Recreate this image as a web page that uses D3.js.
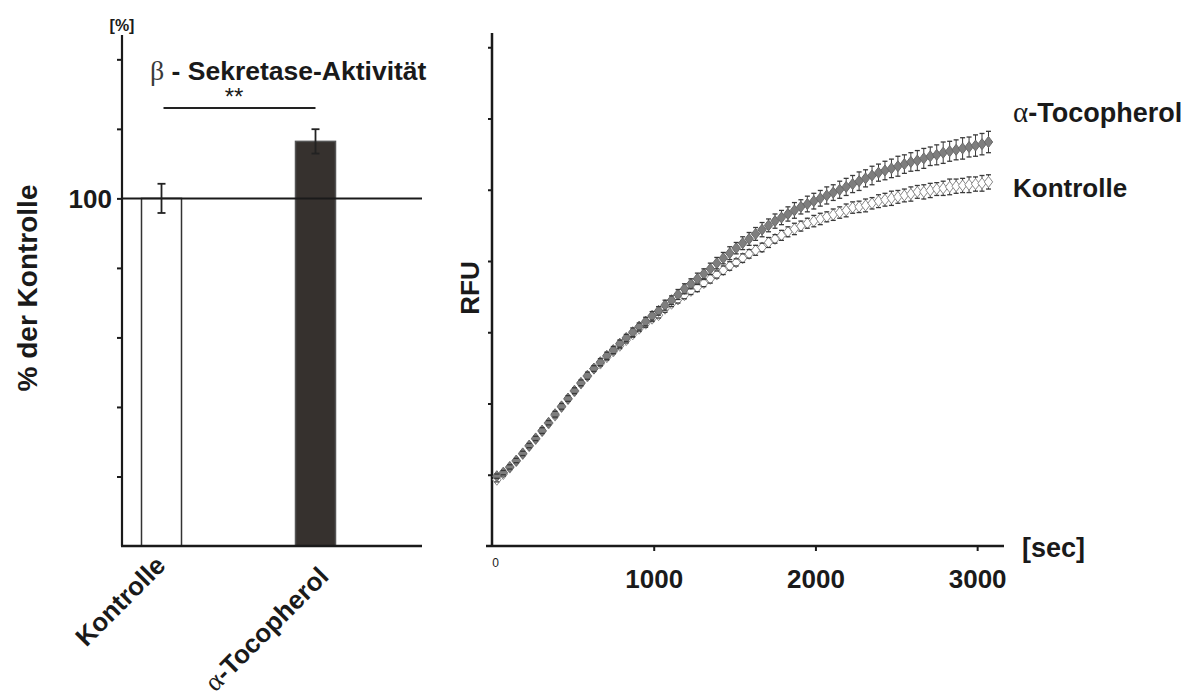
<!DOCTYPE html>
<html>
<head>
<meta charset="utf-8">
<script src="https://cdn.jsdelivr.net/npm/d3@7"></script>
<style>
  html, body { margin: 0; padding: 0; background: #fff; }
  svg { display: block; }
  text { font-family: "Liberation Sans", Arial, sans-serif; fill: #1a1a1a; }
</style>
</head>
<body>
<svg id="chart" width="1190" height="691"></svg>
<script>
// ---------- data: left bar chart ----------
const barCategories = ["Kontrolle", "α-Tocopherol"];
const barValues = [100, 116.4];
const barErrors = [4.2, 3.5];
const barYTicks = [20, 40, 60, 80, 100, 120, 140];
const barYTickLabels = ["", "", "", "", "100", "", ""];

// ---------- data: right kinetics chart ----------
const timeSec = [30,70,110,150,190,230,270,310,350,390,430,470,510,550,590,630,670,710,750,790,
  830,870,910,950,990,1030,1070,1110,1150,1190,1230,1270,1310,1350,1390,1430,1470,1510,1550,1590,
  1630,1670,1710,1750,1790,1830,1870,1910,1950,1990,2030,2070,2110,2150,2190,2230,2270,2310,2350,2390,
  2430,2470,2510,2550,2590,2630,2670,2710,2750,2790,2830,2870,2910,2950,2990,3030,3070];
const kontrolleRFU = [0.93,1.01,1.10,1.19,1.29,1.40,1.50,1.61,1.72,1.83,
  1.95,2.06,2.17,2.28,2.38,2.49,2.56,2.65,2.73,2.81,
  2.89,2.97,3.05,3.12,3.19,3.24,3.33,3.40,3.46,3.52,
  3.58,3.63,3.69,3.75,3.81,3.87,3.93,3.98,4.04,4.10,
  4.15,4.19,4.26,4.31,4.36,4.41,4.45,4.49,4.53,4.56,
  4.59,4.62,4.65,4.68,4.71,4.75,4.76,4.78,4.81,4.84,
  4.86,4.88,4.90,4.92,4.94,4.97,4.97,4.99,5.01,5.02,
  5.04,5.05,5.06,5.07,5.08,5.09,5.11];
const kontrolleErr = [0.03,0.03,0.03,0.03,0.03,0.03,0.03,0.03,0.03,0.03,
  0.03,0.03,0.03,0.03,0.04,0.03,0.03,0.04,0.03,0.04,
  0.04,0.04,0.04,0.05,0.04,0.04,0.05,0.04,0.05,0.05,
  0.05,0.06,0.05,0.06,0.05,0.06,0.06,0.05,0.06,0.06,
  0.07,0.06,0.07,0.06,0.07,0.07,0.08,0.07,0.07,0.08,
  0.08,0.07,0.08,0.08,0.09,0.08,0.08,0.09,0.08,0.09,
  0.09,0.10,0.09,0.09,0.10,0.09,0.10,0.10,0.09,0.10,
  0.11,0.10,0.10,0.11,0.10,0.11,0.10];
const tocopherolRFU = [0.98,1.03,1.11,1.20,1.30,1.41,1.51,1.62,1.73,1.85,
  1.96,2.07,2.18,2.29,2.39,2.49,2.58,2.67,2.75,2.84,
  2.92,3.00,3.08,3.15,3.23,3.30,3.38,3.45,3.53,3.61,
  3.68,3.75,3.82,3.89,3.97,4.04,4.11,4.18,4.25,4.31,
  4.38,4.44,4.50,4.56,4.61,4.66,4.71,4.76,4.80,4.84,
  4.88,4.92,4.96,5.00,5.04,5.08,5.12,5.16,5.20,5.24,
  5.27,5.30,5.33,5.36,5.39,5.41,5.44,5.47,5.49,5.52,
  5.54,5.56,5.58,5.60,5.62,5.64,5.67];
const tocopherolErr = [0.03,0.03,0.03,0.03,0.03,0.03,0.03,0.04,0.03,0.04,
  0.04,0.04,0.04,0.04,0.05,0.04,0.05,0.05,0.05,0.05,
  0.05,0.06,0.05,0.06,0.06,0.06,0.07,0.06,0.07,0.07,
  0.07,0.08,0.07,0.08,0.08,0.08,0.09,0.08,0.09,0.09,
  0.09,0.10,0.09,0.10,0.10,0.10,0.11,0.10,0.11,0.11,
  0.11,0.12,0.11,0.12,0.12,0.12,0.13,0.12,0.13,0.12,
  0.13,0.13,0.14,0.13,0.13,0.14,0.14,0.13,0.14,0.15,
  0.14,0.14,0.15,0.14,0.15,0.15,0.15];
const rfuTicks = [1, 2, 3, 4, 5, 6, 7];
const secTicks = [0, 1000, 2000, 3000];
const secTickLabels = ["0", "1000", "2000", "3000"];

const svg = d3.select("#chart");
const SERIF = "'Liberation Serif', 'DejaVu Serif', serif";

// ================= LEFT CHART =================
const yL = d3.scaleLinear().domain([0, 147]).range([546, 35]);
const xL = d3.scalePoint().domain(barCategories).range([161.5, 315.5]);
const barW = 40;
const axL = 122, axR = 422;
const gL = svg.append("g");

// bars
gL.selectAll("rect.bar").data(barCategories).enter().append("rect")
  .attr("x", d => xL(d) - barW / 2)
  .attr("y", (d, i) => yL(barValues[i]))
  .attr("width", barW)
  .attr("height", (d, i) => yL(0) - yL(barValues[i]))
  .attr("fill", (d, i) => i === 0 ? "#fff" : "#36312e")
  .attr("stroke", (d, i) => i === 0 ? "#333" : "#555")
  .attr("stroke-width", 1.5);

// 100% reference line
gL.append("line").attr("x1", axL).attr("x2", axR)
  .attr("y1", yL(100)).attr("y2", yL(100))
  .attr("stroke", "#1a1a1a").attr("stroke-width", 2);

// error bars
barCategories.forEach((c, i) => {
  const cx = xL(c), lo = yL(barValues[i] - barErrors[i]), hi = yL(barValues[i] + barErrors[i]);
  gL.append("line").attr("x1", cx).attr("x2", cx).attr("y1", lo).attr("y2", hi)
    .attr("stroke", "#222").attr("stroke-width", 1.8);
  [lo, hi].forEach(y => gL.append("line").attr("x1", cx - 4).attr("x2", cx + 4)
    .attr("y1", y).attr("y2", y).attr("stroke", "#222").attr("stroke-width", 1.8));
});

// y axis
const yAxisL = d3.axisLeft(yL).tickValues(barYTicks).tickSize(5)
  .tickFormat((d, i) => barYTickLabels[i]);
const gyL = gL.append("g").attr("transform", `translate(${axL},0)`).call(yAxisL);
gyL.select(".domain").attr("stroke", "#1a1a1a").attr("stroke-width", 2.2)
  .attr("d", `M0,${yL(0)}V${yL(147)}`);
gyL.selectAll(".tick line").attr("stroke", "#1a1a1a").attr("stroke-width", 2);
gyL.selectAll(".tick text").attr("font-size", 26).attr("font-weight", "bold")
  .attr("font-family", "'Liberation Sans', Arial, sans-serif").attr("fill", "#1a1a1a")
  .attr("x", -10).attr("dy", "0.36em");

// x axis line
gL.append("line").attr("x1", axL - 1).attr("x2", axR).attr("y1", yL(0)).attr("y2", yL(0))
  .attr("stroke", "#1a1a1a").attr("stroke-width", 2.5);

// rotated category labels
const catAnchors = [[167, 567], [330, 578]];
barCategories.forEach((c, i) => {
  const t = gL.append("text")
    .attr("transform", `translate(${catAnchors[i][0]},${catAnchors[i][1]}) rotate(-45)`)
    .attr("text-anchor", "end").attr("font-size", 26).attr("font-weight", "bold");
  if (c.startsWith("α")) {
    t.append("tspan").attr("font-family", SERIF).attr("font-weight", "normal").attr("font-size", 27).text("α");
    t.append("tspan").text(c.slice(1));
  } else {
    t.text(c);
  }
});

// y label
gL.append("text").attr("transform", "translate(37,288) rotate(-90)")
  .attr("text-anchor", "middle").attr("font-size", 28).attr("font-weight", "bold")
  .text("% der Kontrolle");
gL.append("text").attr("x", 122).attr("y", 31).attr("text-anchor", "middle")
  .attr("font-size", 16).attr("font-weight", "bold").text("[%]");

// title
const title = gL.append("text").attr("x", 150).attr("y", 80).attr("font-size", 26.5);
title.append("tspan").attr("font-family", SERIF).attr("fill", "#3a3a3a").attr("font-size", 28).text("β");
title.append("tspan").attr("font-weight", "bold").text(" - Sekretase-Aktivität");

// significance
gL.append("line").attr("x1", xL(barCategories[0]) + 2).attr("x2", xL(barCategories[1]))
  .attr("y1", 108).attr("y2", 108).attr("stroke", "#222").attr("stroke-width", 1.8);
gL.append("text").attr("x", 234).attr("y", 105).attr("text-anchor", "middle")
  .attr("font-size", 24).attr("fill", "#222").text("**");

// ================= RIGHT CHART =================
const xR = d3.scaleLinear().domain([0, 3166]).range([492, 1004]);
const yR = d3.scaleLinear().domain([0, 7.2]).range([546, 33]);
const gR = svg.append("g");

const gyR = gR.append("g").attr("transform", `translate(${xR(0)},0)`)
  .call(d3.axisLeft(yR).tickValues(rfuTicks).tickSize(4).tickFormat(""));
gyR.select(".domain").attr("stroke", "#1a1a1a").attr("stroke-width", 2.5)
  .attr("d", `M0,${yR(0)}V${yR(7.2)}`);
gyR.selectAll(".tick line").attr("stroke", "#1a1a1a").attr("stroke-width", 2);

const gxR = gR.append("g").attr("transform", `translate(0,${yR(0)})`)
  .call(d3.axisBottom(xR).tickValues(secTicks).tickSize(5)
    .tickFormat((d, i) => secTickLabels[i]));
gxR.select(".domain").attr("stroke", "#1a1a1a").attr("stroke-width", 2.5)
  .attr("d", `M${xR(0) - 6},0H${xR(3166)}`);
gxR.selectAll(".tick line").attr("stroke", "#1a1a1a").attr("stroke-width", 2)
  .filter(d => d === 0).remove();
gxR.selectAll(".tick text").attr("font-family", "'Liberation Sans', Arial, sans-serif")
  .attr("font-size", 26).attr("font-weight", "bold").attr("fill", "#1a1a1a")
  .attr("y", 24).attr("dy", "0.71em");
gxR.selectAll(".tick").filter(d => d === 0).select("text")
  .attr("font-size", 12).attr("font-weight", "normal").attr("fill", "#888")
  .attr("x", 3).attr("y", 12);

// series
function drawSeries(vals, errs, fill, stroke) {
  const g = gR.append("g");
  const pts = timeSec.map((t, i) => ({ x: xR(t), y: yR(vals[i]), lo: yR(vals[i] - errs[i]), hi: yR(vals[i] + errs[i]) }));
  g.selectAll("line.e").data(pts).enter().append("line")
    .attr("x1", d => d.x).attr("x2", d => d.x).attr("y1", d => d.lo).attr("y2", d => d.hi)
    .attr("stroke", "#3a3a3a").attr("stroke-width", 1);
  g.selectAll("path.m").data(pts).enter().append("path")
    .attr("d", d => `M${d.x},${d.y - 5.5}L${d.x + 4.2},${d.y}L${d.x},${d.y + 5.5}L${d.x - 4.2},${d.y}Z`)
    .attr("fill", fill).attr("stroke", stroke).attr("stroke-width", 1);
  ["lo", "hi"].forEach(k => g.selectAll("line.c" + k).data(pts).enter().append("line")
    .attr("x1", d => d.x - 2.5).attr("x2", d => d.x + 2.5).attr("y1", d => d[k]).attr("y2", d => d[k])
    .attr("stroke", "#3a3a3a").attr("stroke-width", 1.3));
}
drawSeries(kontrolleRFU, kontrolleErr, "#ffffff", "#8a8a8a");
drawSeries(tocopherolRFU, tocopherolErr, "#7e7e7e", "#6a6a6a");

// labels
gR.append("text").attr("transform", "translate(479,288) rotate(-90)")
  .attr("text-anchor", "middle").attr("font-size", 26).attr("font-weight", "bold").text("RFU");
gR.append("text").attr("x", 1022).attr("y", 557).attr("font-size", 27).attr("font-weight", "bold").text("[sec]");
const lt = gR.append("text").attr("x", 1013).attr("y", 122).attr("font-size", 27).attr("font-weight", "bold");
lt.append("tspan").attr("font-family", SERIF).attr("font-weight", "normal").attr("font-size", 29).text("α");
lt.append("tspan").text("-Tocopherol");
gR.append("text").attr("x", 1013).attr("y", 197).attr("font-size", 26).attr("font-weight", "bold").text("Kontrolle");
</script>
</body>
</html>
